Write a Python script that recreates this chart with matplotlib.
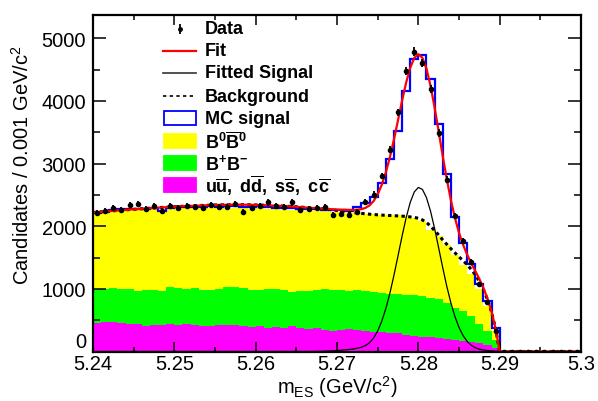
#mES distribution: data, fit and stacked MC components (ROOT-like style)
import numpy as np
import matplotlib
matplotlib.use("Agg")
import matplotlib.pyplot as plt
from matplotlib.patches import Rectangle
from matplotlib.lines import Line2D

plt.rcParams['font.family'] = ['Liberation Sans', 'DejaVu Sans']
plt.rcParams['mathtext.fontset'] = 'custom'
plt.rcParams['mathtext.rm'] = 'Liberation Sans'
plt.rcParams['mathtext.it'] = 'Liberation Sans:italic'
plt.rcParams['mathtext.bf'] = 'Liberation Sans:bold'

#60 bins of 0.001 GeV/c^2 between 5.24 and 5.30
edges = np.round(np.linspace(5.24, 5.30, 61), 4)
centers = 0.5 * (edges[:-1] + edges[1:])

data_counts = [2210, 2250, 2290, 2255, 2345, 2350, 2270, 2315, 2235, 2315,
               2290, 2315, 2305, 2285, 2335, 2300, 2310, 2350, 2228, 2295,
               2316, 2378, 2324, 2302, 2378, 2255, 2276, 2295, 2302, 2175,
               2196, 2183, 2223, 2391, 2505, 2798, 3223, 3815, 4472, 4783,
               4605, 4192, 3490, 2744, 2159, 1770, 1434, 1078, 790, 330,
               0, 0, 0, 0, 0, 0, 0, 0, 0, 0]

#stacked MC components (bottom to top)
qq_counts = [450, 470, 465, 450, 445, 445, 400, 420, 425, 440,
             415, 435, 430, 400, 410, 420, 425, 415, 400, 395,
             410, 375, 390, 380, 405, 370, 360, 375, 350, 335,
             340, 360, 345, 330, 310, 305, 300, 290, 270, 250,
             235, 225, 210, 200, 185, 170, 150, 130, 110, 60,
             0, 0, 0, 0, 0, 0, 0, 0, 0, 0]
bpbm_counts = [548, 530, 545, 550, 550, 525, 575, 565, 545, 585,
               605, 565, 580, 580, 565, 580, 605, 620, 620, 590,
               565, 615, 605, 605, 545, 590, 610, 600, 640, 645,
               635, 610, 630, 630, 640, 635, 625, 625, 635, 645,
               645, 635, 630, 580, 515, 480, 410, 310, 210, 120,
               0, 0, 0, 0, 0, 0, 0, 0, 0, 0]
b0b0_counts = [1197, 1215, 1225, 1250, 1255, 1290, 1280, 1285, 1260, 1250,
               1260, 1285, 1280, 1305, 1320, 1290, 1270, 1260, 1265, 1295,
               1315, 1285, 1275, 1280, 1310, 1295, 1280, 1270, 1245, 1250,
               1245, 1245, 1230, 1235, 1240, 1245, 1255, 1260, 1255, 1235,
               1200, 1080, 1000, 920, 840, 730, 670, 560, 400, 150,
               0, 0, 0, 0, 0, 0, 0, 0, 0, 0]
mcsig_counts = [15, 15, 18, 18, 20, 20, 20, 20, 20, 20,
                20, 20, 20, 20, 22, 22, 22, 22, 22, 22,
                24, 24, 24, 25, 25, 25, 26, 28, 28, 30,
                32, 35, 95, 175, 280, 500, 888, 1351, 2005, 2541,
                2650, 2412, 1793, 1135, 603, 353, 170, 85, 80, 50,
                0, 0, 0, 0, 0, 0, 0, 0, 0, 0]

#fit curves
curve_x = np.round(np.concatenate([np.arange(5.240, 5.2675, 0.001),
                                   np.arange(5.268, 5.29225, 0.0005),
                                   [5.300]]), 4)
bkg_curve = [2218, 2229, 2240, 2250, 2260, 2269, 2278, 2287, 2295, 2303,
             2310, 2317, 2323, 2329, 2334, 2338, 2341, 2343, 2343, 2342,
             2339, 2335, 2330, 2324, 2317, 2309, 2300, 2290,
             2279, 2273, 2266, 2259, 2251, 2243, 2235, 2227, 2219, 2211,
             2204, 2197, 2191, 2186, 2181, 2177, 2173, 2170, 2167, 2164,
             2160, 2155, 2148, 2139, 2127, 2100, 2060, 2000, 1930, 1860,
             1780, 1710, 1640, 1575, 1510, 1450, 1385, 1310, 1225, 1120,
             990, 830, 630, 360, 0, 0, 0, 0, 0,
             0]
sig_curve = [0] * 28 + \
            [3, 5, 8, 11, 15, 20, 27, 33, 40, 52,
             68, 95, 140, 215, 327, 482, 683, 929, 1215, 1526,
             1841, 2135, 2378, 2546, 2618, 2587, 2456, 2240, 1963, 1653,
             1337, 1039, 776, 557, 384, 254, 162, 99, 60, 38,
             24, 15, 9, 5, 3, 2, 1, 0, 0] + [0]
fit_curve = np.array(bkg_curve) + np.array(sig_curve)

fig = plt.figure(figsize=(5.98, 4.02), dpi=100)
ax = fig.add_axes([93/598, 49.5/402, 488/598, 336.5/402])

#stacked histograms
qq = np.array(qq_counts)
bpbm = qq + np.array(bpbm_counts)
b0b0 = bpbm + np.array(b0b0_counts)
total = b0b0 + np.array(mcsig_counts)
ax.stairs(qq, edges, baseline=0, fill=True, color='#ff00ff', lw=0)
ax.stairs(bpbm, edges, baseline=qq, fill=True, color='#00ff00', lw=0)
ax.stairs(b0b0, edges, baseline=bpbm, fill=True, color='#ffff00', lw=0)
ax.stairs(total, edges, baseline=b0b0, fill=True, color='white', lw=0)
ax.stairs(total, edges, baseline=None, color='#0000ff', lw=1.6)

#fit curves
ax.plot(curve_x, bkg_curve, color='black', lw=2.2, ls=(0, (1.1, 1.1)))
ax.plot(curve_x, sig_curve, color='black', lw=0.9)
ax.plot(curve_x, fit_curve, color='#ff0000', lw=1.6)

#data
ax.errorbar(centers, data_counts, yerr=np.sqrt(data_counts), fmt='o', color='black',
            ms=3, elinewidth=1.3, capsize=0, zorder=5)

ax.set_xlim(5.24, 5.30)
ax.set_ylim(0, 5370)
ax.set_xticks([5.24, 5.25, 5.26, 5.27, 5.28, 5.29, 5.30])
ax.set_xticklabels(['5.24', '5.25', '5.26', '5.27', '5.28', '5.29', '5.3'])
ax.set_xticks(np.arange(5.245, 5.30, 0.01), minor=True)
ax.set_yticks([0, 1000, 2000, 3000, 4000, 5000])
ax.set_yticks([500, 1500, 2500, 3500, 4500], minor=True)
ax.tick_params(which='both', direction='in', top=True, right=True, labelsize=14.5, width=1.1)
ax.tick_params(axis='y', which='major', length=9.5, pad=5)
ax.tick_params(axis='y', which='minor', length=5)
ax.tick_params(axis='x', which='major', length=7, pad=2)
ax.tick_params(axis='x', which='minor', length=3.5)
for s in ax.spines.values():
    s.set_linewidth(1.6)
#the "0" sits a bit above the axis like in ROOT, clear of "5.24"
ax.yaxis.get_major_ticks()[0].label1.set_verticalalignment('bottom')

fig.text(22/598, 1 - 165/402, r'Candidates / 0.001 GeV/c$^{2}$', rotation=90,
         ha='center', va='center', fontsize=14.5)
fig.text(337/598, 1 - 394/402, r'm$_{\rm ES}$ (GeV/c$^{2}$)', ha='center', va='baseline',
         fontsize=14.5)

#legend drawn in pixel coordinates on an overlay
lg = fig.add_axes([0, 0, 1, 1], facecolor='none')
lg.set_xlim(0, 598)
lg.set_ylim(402, 0)
lg.axis('off')
labels = ['Data', 'Fit', 'Fitted Signal', 'Background', 'MC signal',
          r'$\mathbf{B^{0}\overline{B}^{0}}$', r'$\mathbf{B^{+}B^{-}}$',
          r'$\mathbf{u\overline{u},\ d\overline{d},\ s\overline{s},\ c\overline{c}}$']
row_y = [30, 52, 74, 97, 119, 142, 164, 186]
lg.errorbar([180], [row_y[0]], yerr=[5], fmt='o', color='black', ms=2.5, elinewidth=1.3)
lg.add_line(Line2D([163, 196], [row_y[1]] * 2, color='#ff0000', lw=1.6))
lg.add_line(Line2D([163, 196], [row_y[2]] * 2, color='#333333', lw=1.2))
lg.add_line(Line2D([163, 196], [row_y[3]] * 2, color='black', lw=1.2, ls=(0, (2, 2))))
box_colors = [('white', '#0000ff'), ('#ffff00', '#ffff00'), ('#00ff00', '#00ff00'), ('#ff00ff', '#ff00ff')]
for (fc, ec), yy in zip(box_colors, row_y[4:]):
    lg.add_patch(Rectangle((164, yy - 7), 32, 14, facecolor=fc, edgecolor=ec, lw=1.3))
for lab, yy in zip(labels, row_y):
    lg.text(205, yy, lab, fontsize=13, fontweight='bold', va='center', ha='left')

fig.savefig('out.png', dpi=100)
